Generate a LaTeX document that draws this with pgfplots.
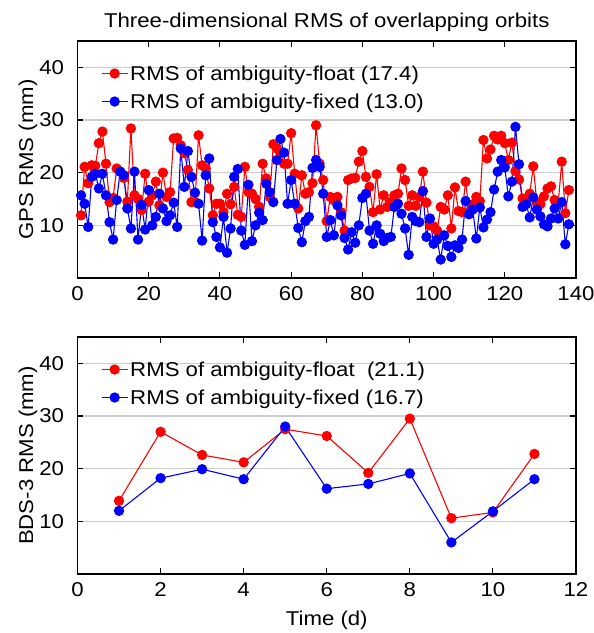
\documentclass[border=0pt]{standalone}
\usepackage{pgfplots}
\pgfplotsset{compat=1.18}
\usepackage{fontspec}
\setmainfont{Liberation Sans}[FakeStretch=1.11]
\newcommand{\ff}{\fontsize{20}{24}\selectfont}
\pgfplotsset{
  myaxis/.style={
    scale only axis, width=498.5pt, height=237pt,
    ymin=0, ymax=45, ytick={10,20,30,40},
    ymajorgrids, grid style={color=black!20, line width=1.3pt},
    axis line style={line width=1.1pt},
    tick style={black, line width=1.1pt},
    major tick length=6pt,
    tick align=inside,
    tick label style={font=\ff},
    yticklabel style={xshift=-10pt},
    xticklabel style={yshift=-5pt},
    label style={font=\ff},
    /pgf/number format/assume math mode=true,
    ylabel style={at={(axis description cs:-0.0993,0.5)}, anchor=center},
    legend style={draw=none, fill=none, font=\ff, at={(0.045,0.91)}, anchor=north west, row sep=8pt, inner sep=1pt},
    legend cell align=left,
    legend image code/.code={\draw[mark repeat=2,mark phase=2,##1] plot coordinates {(0pt,0pt) (13pt,0pt) (26pt,0pt)};},
  },
  rs/.style={color=red, line width=1.1pt, mark=*, mark size=4.6pt, mark options={fill=red, solid}},
  bs/.style={color=blue, line width=1.1pt, mark=*, mark size=4.6pt, mark options={fill=blue, solid}},
}
\begin{document}
\begin{tikzpicture}
\begin{axis}[myaxis, at={(77.5pt,355pt)}, anchor=south west,
  xmin=0, xmax=140, xtick={0,20,...,140},
  ylabel={GPS RMS (mm)},
  title={Three-dimensional RMS of overlapping orbits},
  title style={font=\ff, at={(axis description cs:0.5,1)}, anchor=center, yshift=13pt}]
\addplot[rs] table {
1 11.9
2 21.1
3 18.0
4 21.4
5 21.3
6 25.6
7 27.8
8 21.7
9 14.4
10 15.2
11 20.8
12 20.2
13 19.0
14 14.5
15 28.4
16 15.7
17 15.0
18 12.9
19 19.8
20 14.5
21 15.7
22 18.3
23 13.8
24 20.0
25 15.4
26 16.3
27 26.5
28 26.6
29 25.2
30 23.7
31 20.5
32 14.4
33 14.4
34 27.1
35 21.4
36 20.8
37 17.0
38 11.9
39 14.1
40 14.1
41 12.5
42 16.0
43 14.0
44 17.3
45 12.0
46 11.6
47 21.1
48 16.3
49 16.0
50 15.0
51 13.5
52 21.7
53 18.9
54 15.4
55 25.4
56 24.6
57 23.7
58 21.7
59 21.7
60 27.5
61 19.8
62 13.2
63 19.5
64 16.0
65 16.3
66 18.0
67 29.0
68 21.7
69 18.6
70 10.8
71 15.4
72 14.8
73 15.4
74 12.5
75 9.0
76 18.6
77 18.9
78 19.0
79 22.1
80 24.1
81 19.2
82 17.3
83 12.5
84 19.7
85 13.0
86 15.7
87 13.5
88 14.5
89 15.7
90 16.0
91 20.8
92 18.6
93 13.7
94 15.7
95 13.7
96 15.4
97 20.2
98 14.3
99 10.0
100 9.8
101 9.0
102 13.5
103 13.0
104 15.7
105 9.4
106 17.2
107 12.7
108 12.5
109 18.3
110 12.5
111 14.0
112 15.4
113 14.6
114 26.2
115 22.7
116 24.4
117 27.0
118 26.3
119 27.0
120 25.6
121 22.4
122 25.7
123 20.3
124 18.7
125 15.1
126 14.8
127 16.0
128 21.2
129 14.4
130 14.0
131 15.5
132 17.0
133 17.4
134 14.8
135 14.1
136 22.1
137 12.3
138 16.7
};
\addlegendentry{RMS of ambiguity-float (17.4)}
\addplot[bs] table {
1 15.7
2 14.1
3 9.7
4 19.2
5 19.8
6 17.0
7 19.8
8 15.7
9 10.6
10 7.3
11 14.8
12 20.2
13 19.5
14 13.2
15 9.4
16 20.2
17 7.3
18 13.9
19 9.2
20 16.7
21 10.0
22 11.6
23 16.0
24 13.2
25 10.8
26 11.9
27 14.3
28 9.7
29 24.6
30 17.3
31 24.1
32 19.2
33 16.2
34 14.1
35 7.1
36 19.5
37 22.7
38 10.6
39 7.8
40 5.8
41 11.6
42 4.8
43 9.4
44 19.2
45 20.7
46 9.0
47 6.3
48 17.7
49 7.0
50 10.0
51 12.4
52 11.0
53 17.9
54 16.3
55 14.4
56 22.4
57 26.4
58 23.8
59 14.1
60 18.6
61 14.1
62 9.5
63 6.8
64 10.8
65 11.6
66 20.9
67 22.4
68 21.1
69 16.0
70 7.8
71 11.0
72 8.1
73 13.8
74 11.9
75 7.6
76 5.4
77 8.7
78 6.7
79 10.0
80 15.2
81 16.0
82 9.0
83 6.5
84 10.0
85 8.4
86 7.0
87 7.6
88 7.8
89 13.5
90 14.1
91 12.2
92 9.4
93 4.4
94 11.6
95 10.8
96 10.6
97 16.5
98 7.8
99 11.3
100 6.5
101 7.3
102 3.5
103 8.1
104 6.1
105 4.0
106 6.2
107 5.7
108 7.3
109 14.6
110 12.1
111 13.0
112 7.5
113 13.4
114 9.6
115 11.1
116 12.5
117 16.8
118 20.2
119 22.4
120 21.0
121 15.5
122 18.3
123 28.7
124 21.6
125 13.5
126 14.0
127 11.5
128 15.3
129 13.0
130 11.7
131 10.2
132 9.8
133 11.3
134 13.2
135 11.3
136 14.4
137 6.4
138 10.2
};
\addlegendentry{RMS of ambiguity-fixed (13.0)}
\end{axis}
\begin{axis}[myaxis, at={(77.5pt,59pt)}, anchor=south west,
  xmin=0, xmax=12, xtick={0,2,...,12},
  ylabel={BDS-3 RMS (mm)},
  xlabel={Time (d)},
  xlabel style={at={(axis description cs:0.5,-0.194)}, anchor=center}]
\addplot[rs] table {
1 13.9
2 27.0
3 22.6
4 21.2
5 27.5
6 26.2
7 19.2
8 29.5
9 10.6
10 11.7
11 22.8
};
\addlegendentry{RMS of ambiguity-float\ \ (21.1)}
\addplot[bs] table {
1 12.0
2 18.2
3 19.9
4 18.0
5 28.0
6 16.2
7 17.1
8 19.1
9 6.0
10 11.9
11 18.0
};
\addlegendentry{RMS of ambiguity-fixed (16.7)}
\end{axis}
\pgfresetboundingbox
\path[use as bounding box] (0,0) rectangle (594pt,633pt);
\end{tikzpicture}
\end{document}
